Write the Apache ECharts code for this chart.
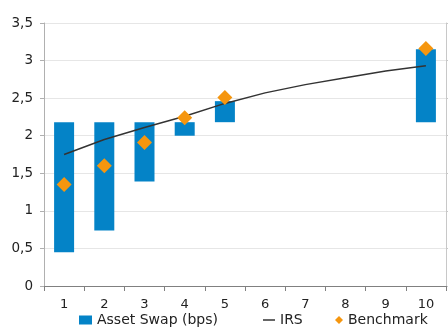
<!DOCTYPE html>
<html>
<head>
<meta charset="utf-8">
<script src="https://cdn.jsdelivr.net/npm/echarts@6/dist/echarts.min.js"></script>
<style>html,body{margin:0;padding:0;background:#fff}#c{width:448px;height:331px}</style>
</head>
<body>
<div id="c"></div>
<script>
var categories = ['1','2','3','4','5','6','7','8','9','10'];
var assetSwapLow  = [0.45, 0.74, 1.39, 2.00, 2.18, null, null, null, null, 2.18];
var assetSwapHigh = [2.18, 2.18, 2.18, 2.18, 2.46, null, null, null, null, 3.15];
var irs = [1.75, 1.95, 2.11, 2.26, 2.43, 2.57, 2.68, 2.77, 2.86, 2.93];
var benchmark = [1.35, 1.60, 1.91, 2.24, 2.51, null, null, null, null, 3.16];
var yTicks = [0, 0.5, 1, 1.5, 2, 2.5, 3, 3.5];

var base = assetSwapLow.map(function(v){ return v == null ? '-' : v; });
var span = assetSwapLow.map(function(v, i){ return v == null ? '-' : +(assetSwapHigh[i] - v).toFixed(3); });
var bench = benchmark.map(function(v){ return v == null ? '-' : v; });

var FONT = 'DejaVu Sans';
var legendText = {fontFamily: FONT, fontSize: 14, color: '#222'};
var chart = echarts.init(document.getElementById('c'), null, {renderer: 'canvas'});
chart.setOption({
  animation: false,
  textStyle: {fontFamily: FONT},
  grid: {left: 44, right: 2, top: 23, bottom: 45, containLabel: false},
  legend: [
    {bottom: -1, left: 74, itemWidth: 13, itemHeight: 9, textStyle: legendText,
      data: [{name: 'Asset Swap (bps)', icon: 'rect'}]},
    {bottom: -1, left: 258, itemWidth: 12, itemHeight: 9, textStyle: legendText,
      data: [{name: 'IRS', icon: 'path://M0,0 L12,0 L12,1.5 L0,1.5 Z'}]},
    {bottom: -1, left: 330, itemWidth: 8, itemHeight: 9, textStyle: legendText,
      data: [{name: 'Benchmark', icon: 'path://M5,0 L10,5 L5,10 L0,5 Z'}]}
  ],
  xAxis: {
    type: 'category', data: categories, boundaryGap: true,
    axisLine: {lineStyle: {color: '#808080', width: 1}},
    axisTick: {show: true, alignWithLabel: false, length: 5, lineStyle: {color: '#808080'}},
    axisLabel: {fontFamily: FONT, fontSize: 13, color: '#222', margin: 12}
  },
  yAxis: [{
    type: 'value', min: 0, max: 3.5, interval: 0.5,
    axisLine: {show: true, lineStyle: {color: '#b0b0b0'}},
    axisTick: {show: true, length: 4, lineStyle: {color: '#b0b0b0'}},
    splitLine: {lineStyle: {color: '#e6e6e6'}},
    axisLabel: {fontFamily: FONT, fontSize: 13.5, color: '#222', margin: 11,
      formatter: function(v){ return String(v).replace('.', ','); }}
  }, {
    type: 'value', min: 0, max: 3.5, interval: 0.5, position: 'right',
    axisLine: {show: true, lineStyle: {color: '#c8c8c8'}},
    axisTick: {show: true, length: 3, lineStyle: {color: '#c8c8c8'}},
    splitLine: {show: false}, axisLabel: {show: false}
  }],
  series: [
    {name: 'base', type: 'bar', stack: 'as', data: base, barWidth: 20,
      itemStyle: {color: 'rgba(0,0,0,0)'}, silent: true},
    {name: 'Asset Swap (bps)', type: 'bar', stack: 'as', data: span, barWidth: 20,
      itemStyle: {color: '#0483C7'}},
    {name: 'IRS', type: 'line', data: irs, symbol: 'none', smooth: false,
      lineStyle: {color: '#333333', width: 1.5}, itemStyle: {color: '#333333'}, z: 3},
    {name: 'Benchmark', type: 'scatter', data: bench, symbol: 'diamond', symbolSize: 15,
      itemStyle: {color: '#F5960F', opacity: 1}, z: 4}
  ]
});
</script>
</body>
</html>
